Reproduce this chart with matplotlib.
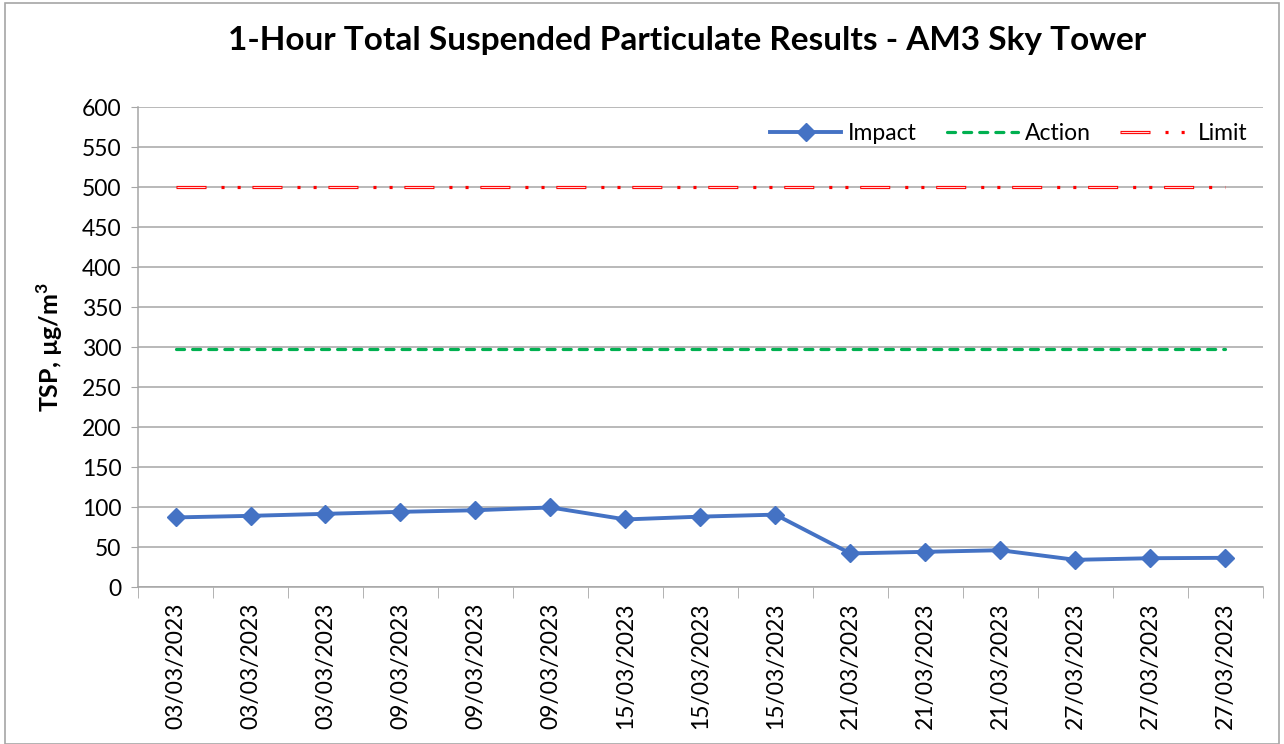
import numpy as np
import matplotlib.pyplot as plt
from matplotlib.legend_handler import HandlerTuple
from matplotlib.patches import Rectangle

plt.rcParams.update({
    "font.family": ["Lato", "DejaVu Sans"],
    "font.size": 13,
    "lines.scale_dashes": False,
    "mathtext.fontset": "custom",
    "mathtext.bf": "Lato:bold",
    "mathtext.rm": "Lato",
})

dates = ['03/03/2023', '03/03/2023', '03/03/2023', '09/03/2023', '09/03/2023',
         '09/03/2023', '15/03/2023', '15/03/2023', '15/03/2023', '21/03/2023',
         '21/03/2023', '21/03/2023', '27/03/2023', '27/03/2023', '27/03/2023']
impact = [87, 89, 91.5, 94, 96, 99.5, 84.5, 88, 90.5, 42, 44, 46, 34, 36, 36.5]
action_level = 297
limit_level = 500

x = np.arange(len(dates))
action = np.full(len(dates), action_level)
limit = np.full(len(dates), limit_level)

fig = plt.figure(figsize=(12.84, 7.44), dpi=100)
ax = fig.add_axes([0.1075, 0.211, 0.876, 0.645])

# chart border
fig.patches.append(Rectangle((0.004, 0.0), 0.992, 0.996, transform=fig.transFigure,
                             fill=False, edgecolor='#a6a6a6', linewidth=1.2))

# limit line: outlined long dash + two dots
period = [21.6, 10.8, 2.2, 9.4, 2.2, 8.5]
lim_outer, = ax.plot(x, limit, color='#ff0000', linewidth=2.3,
                     linestyle=(0, period), solid_capstyle='butt', dash_capstyle='butt', zorder=3)
lim_inner, = ax.plot(x, limit, color='#ffd6d6', linewidth=0.8,
                     linestyle=(54.0, (20.2, 34.5)), dash_capstyle='butt', zorder=4)

act, = ax.plot(x, action, color='#00b050', linewidth=2.3,
               linestyle=(0, (5.8, 5.8)), dash_capstyle='round', zorder=3)

imp, = ax.plot(x, impact, color='#4472c4', linewidth=2.8, marker='D',
               markersize=9.5, zorder=5)

ax.set_xlim(-0.5, len(dates) - 0.5)
ax.set_ylim(0, 600)
ax.set_yticks(np.arange(0, 601, 50))
ax.tick_params(axis='y', labelsize=16.5, length=5, color='#a6a6a6', pad=7)
ax.set_xticks(x)
ax.set_xticklabels(dates, rotation=90, fontsize=16.5)
ax.set_xticks(np.arange(-0.5, len(dates), 1), minor=True)
ax.tick_params(axis='x', which='major', length=0, pad=11)
ax.tick_params(axis='x', which='minor', length=8, color='#a6a6a6')

ax.grid(axis='y', color='#a6a6a6', linewidth=1.1)
ax.set_axisbelow(True)
for s in ['top', 'right']:
    ax.spines[s].set_visible(False)
for s in ['left', 'bottom']:
    ax.spines[s].set_color('#a6a6a6')
    ax.spines[s].set_linewidth(1.1)

ax.set_ylabel(r'TSP, µg/m$^{\mathbf{3}}$', fontsize=18, fontweight='bold', labelpad=12)
fig.text(0.535, 0.945, '1-Hour Total Suspended Particulate Results - AM3 Sky Tower',
         ha='center', va='center', fontsize=24, fontweight='bold')

ax.legend([imp, act, (lim_outer, lim_inner)], ['Impact', 'Action', 'Limit'],
          handler_map={tuple: HandlerTuple(ndivide=1, pad=0)},
          loc='upper right', bbox_to_anchor=(1.005, 1.01), ncol=3, frameon=False,
          fontsize=16.5, handlelength=3.1, columnspacing=1.3, handletextpad=0.3)

plt.savefig('out.png', dpi=100)
